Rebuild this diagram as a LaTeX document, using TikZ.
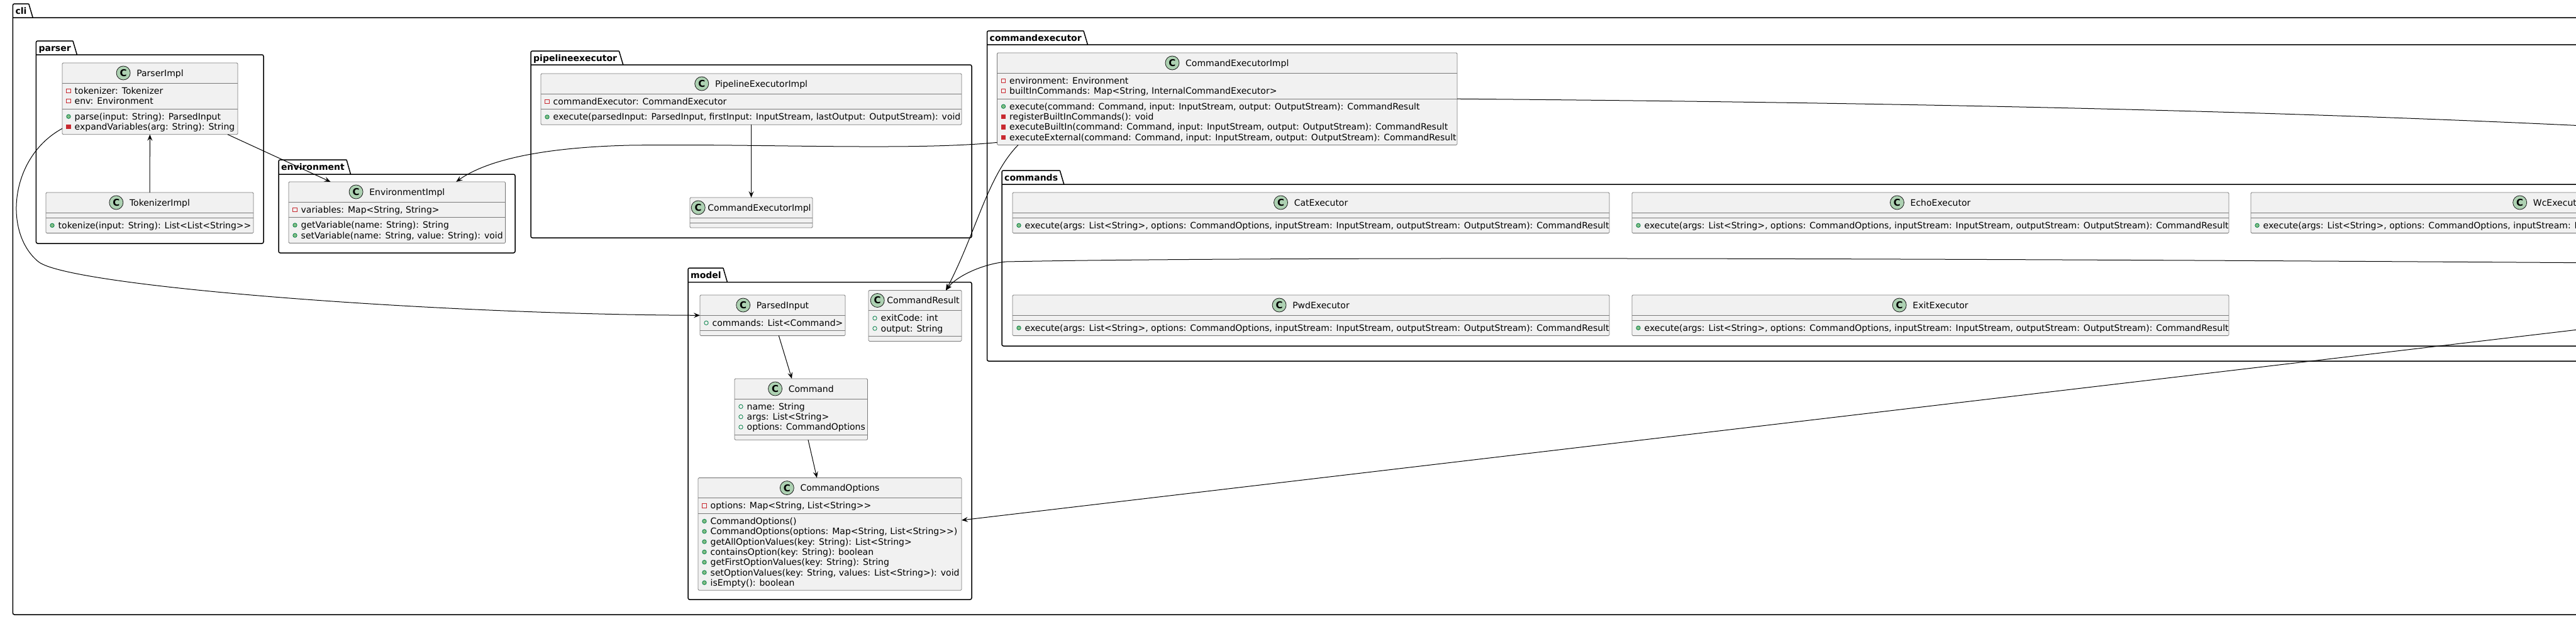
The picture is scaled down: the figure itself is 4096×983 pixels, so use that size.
\documentclass[tikz,border=0pt]{standalone}
\usepackage{fontspec}
\newfontfamily\dv{DejaVu Sans}
\usetikzlibrary{calc,arrows.meta,positioning}
\definecolor{boxfill}{HTML}{F1F1F1}
\definecolor{boxline}{HTML}{7A7A7A}
\definecolor{spotfill}{HTML}{ADD1B2}
\definecolor{privred}{HTML}{C82930}
\definecolor{pubgreen}{HTML}{038048}
\definecolor{pubfill}{HTML}{84BE84}
\tikzset{
 clsbox/.style={draw=boxline, fill=boxfill, line width=0.8pt, rounded corners=1.5pt, inner sep=0pt, outer sep=0pt},
 sepl/.style={draw=boxline, line width=0.8pt},
 clstitle/.style={inner sep=0pt, font=\dv\fontsize{14}{16}\selectfont, anchor=base},
 spot/.style={circle, draw=black!90, fill=spotfill, line width=0.8pt, minimum size=22pt, inner sep=0pt, font=\dv\fontsize{15}{16}\selectfont\bfseries},
 rowtxt/.style={inner sep=0pt, font=\dv\fontsize{14}{16}\selectfont, anchor=base west},
 pkglabel/.style={inner sep=0pt, font=\dv\fontsize{14}{16}\selectfont\bfseries, anchor=base west},
 pkgline/.style={draw=black, line width=1.5pt},
 conn/.style={draw=black, line width=1pt},
 arr/.style={conn, -{Stealth[length=10pt,width=8pt,inset=4pt]}},
}
% class box: [gap] id, left, top, width, height, title
\newcommand{\cls}[7][10]{%
  \node[clsbox, minimum width=#5pt, minimum height=#6pt, anchor=north west] (#2) at (#3,#4) {};
  \draw[sepl] ([yshift=-32pt]#2.north west) -- ([yshift=-32pt]#2.north east);
  \pgfmathsetmacro\tshift{(22+#1)/2}%
  \pgfmathsetmacro\sshift{11+#1}%
  \node[clstitle] (#2-t) at ([xshift=\tshift pt, yshift=-21pt]#2.north) {#7};
  \node[spot] (#2-c) at ($(#2-t.base west)+(-\sshift pt,5pt)$) {C};
}
\newcommand{\sepat}[2]{\draw[sepl] (#1.west |- 0,#2) -- (#1.east |- 0,#2);}
\newcommand{\privf}[2]{\draw[privred, line width=0.8pt] ({#1-3.2},{#2-3.2}) rectangle ({#1+3.2},{#2+3.2});}
\newcommand{\privm}[2]{\draw[privred, fill=privred, line width=0.8pt] ({#1-3.2},{#2-3.2}) rectangle ({#1+3.2},{#2+3.2});}
\newcommand{\pubf}[2]{\draw[pubgreen, line width=0.8pt] (#1,#2) circle[radius=3.2pt];}
\newcommand{\pubm}[2]{\draw[pubgreen, fill=pubfill, line width=0.8pt] (#1,#2) circle[radius=3.2pt];}
\newcommand{\mrow}[4]{#1{#2+10}{#3}\node[rowtxt] at ({#2+19.5},{#3+5}) {#4};}
% package: id, label, L, tabTop, frameTop, R, B
\newcommand{\pkg}[7]{%
  \node[pkglabel] (#1) at ({#3+4},{(#4+#5)/2+5}) {#2};
  \coordinate (#1-tr) at ($(#1.base east)+(3pt,0)$);
  \draw[pkgline, rounded corners=2.5pt] (#1-tr |- 0,#4) -- (#3,#4) -- (#3,#7) -- (#6,#7) -- (#6,#5) -- (#3,#5);
  \draw[pkgline] (#1-tr |- 0,#4) -- ($(#1-tr |- 0,#5)+(6.5pt,0)$);
}
\newcommand{\execsig}{execute(args: List<String>, options: CommandOptions, inputStream: InputStream, outputStream: OutputStream): CommandResult}
\begin{document}
\begin{tikzpicture}[x=1pt,y=-1pt]
\useasboundingbox (0,0) rectangle (4096,983);
\clip (0,0) rectangle (4096,983);
\fill[white] (0,0) rectangle (4096,983);

% packages
\pkg{pcli}{cli}{20.4}{6}{28}{4300}{977}
\pkg{pparser}{parser}{57.4}{65}{87}{419}{387}
\pkg{penv}{environment}{443}{254}{277}{819}{402}
\pkg{ppipe}{pipelineexecutor}{844}{81}{103}{1545}{378}
\pkg{pcexec}{commandexecutor}{1569.5}{49}{71}{4300}{574}
\pkg{pcmds}{commands}{1593}{271}{293}{4250}{550}
\pkg{pmodel}{model}{1094}{426}{448.5}{1545}{953}

% parser
\cls{ParserImpl}{99}{100}{279}{113.8}{ParserImpl}
\mrow\privf{99}{144.3}{tokenizer: Tokenizer}
\mrow\privf{99}{160.6}{env: Environment}
\sepat{ParserImpl}{172.9}
\mrow\pubm{99}{185.2}{parse(input: String): ParsedInput}
\mrow\privm{99}{201.5}{expandVariables(arg: String): String}

\cls{TokenizerImpl}{73}{306}{330}{64.6}{TokenizerImpl}
\sepat{TokenizerImpl}{346}
\mrow\pubm{73}{358.3}{tokenize(input: String): List<List<String>>}

% environment
\cls{EnvironmentImpl}{459}{289}{344.6}{97.5}{EnvironmentImpl}
\mrow\privf{459}{333.3}{variables: Map<String, String>}
\sepat{EnvironmentImpl}{345.6}
\mrow\pubm{459}{357.9}{getVariable(name: String): String}
\mrow\pubm{459}{374.2}{setVariable(name: String, value: String): void}

% pipelineexecutor
\cls{PipelineExecutorImpl}{860}{117}{669}{81.2}{PipelineExecutorImpl}
\mrow\privf{860}{161.3}{commandExecutor: CommandExecutor}
\sepat{PipelineExecutorImpl}{173.6}
\mrow\pubm{860}{185.9}{execute(parsedInput: ParsedInput, firstInput: InputStream, lastOutput: OutputStream): void}

\cls[4]{CEIref}{1097}{314}{195}{48}{CommandExecutorImpl}
\sepat{CEIref}{354}

% commandexecutor
\cls{CEI}{1585.5}{84}{731.5}{146.4}{CommandExecutorImpl}
\mrow\privf{1585.5}{128.3}{environment: Environment}
\mrow\privf{1585.5}{144.6}{builtInCommands: Map<String, InternalCommandExecutor>}
\sepat{CEI}{156.9}
\mrow\pubm{1585.5}{169.2}{execute(command: Command, input: InputStream, output: OutputStream): CommandResult}
\mrow\privm{1585.5}{185.5}{registerBuiltInCommands(): void}
\mrow\privm{1585.5}{201.8}{executeBuiltIn(command: Command, input: InputStream, output: OutputStream): CommandResult}
\mrow\privm{1585.5}{218.1}{executeExternal(command: Command, input: InputStream, output: OutputStream): CommandResult}

% commands
\cls{CatExecutor}{1610}{306}{949}{64.6}{CatExecutor}
\sepat{CatExecutor}{346}
\mrow\pubm{1610}{358.3}{\execsig}
\cls{EchoExecutor}{2595}{306}{949}{64.6}{EchoExecutor}
\sepat{EchoExecutor}{346}
\mrow\pubm{2595}{358.3}{\execsig}
\cls{WcExecutor}{3579}{306}{949}{64.6}{WcExecutor}
\sepat{WcExecutor}{346}
\mrow\pubm{3579}{358.3}{\execsig}
\cls{PwdExecutor}{1610}{469}{949}{64.6}{PwdExecutor}
\sepat{PwdExecutor}{509}
\mrow\pubm{1610}{521.3}{\execsig}
\cls{ExitExecutor}{2595}{469}{949}{64.6}{ExitExecutor}
\sepat{ExitExecutor}{509}
\mrow\pubm{2595}{521.3}{\execsig}

% model
\cls{ParsedInput}{1113}{469}{231}{64.6}{ParsedInput}
\mrow\pubf{1113}{513.3}{commands: List<Command>}
\sepat{ParsedInput}{525.6}

\cls[4]{CommandResult}{1381}{461.5}{148}{80.9}{CommandResult}
\mrow\pubf{1381}{505.8}{exitCode: int}
\mrow\pubf{1381}{522.1}{output: String}
\sepat{CommandResult}{534.4}

\cls{Command}{1168}{602}{211.5}{97.2}{Command}
\mrow\pubf{1168}{646.3}{name: String}
\mrow\pubf{1168}{662.6}{args: List<String>}
\mrow\pubf{1168}{678.9}{options: CommandOptions}
\sepat{Command}{691.2}

\cls{CommandOptions}{1110}{759.6}{419}{178.7}{CommandOptions}
\mrow\privf{1110}{803.9}{options: Map<String, List<String>>}
\sepat{CommandOptions}{816.2}
\mrow\pubm{1110}{828.5}{CommandOptions()}
\mrow\pubm{1110}{844.8}{CommandOptions(options: Map<String, List<String>>)}
\mrow\pubm{1110}{861.1}{getAllOptionValues(key: String): List<String>}
\mrow\pubm{1110}{877.4}{containsOption(key: String): boolean}
\mrow\pubm{1110}{893.7}{getFirstOptionValues(key: String): String}
\mrow\pubm{1110}{910}{setOptionValues(key: String, values: List<String>): void}
\mrow\pubm{1110}{926.3}{isEmpty(): boolean}

% off-picture ends
\coordinate (offA) at (4150,202);
\coordinate (offB) at (4150,418);
\coordinate (offC) at (4150,518);

% connectors
\draw[arr] (TokenizerImpl) -- (ParserImpl);
\draw[arr] (ParserImpl) -- (EnvironmentImpl);
\draw[arr] ($(ParserImpl.south west)+(0,9.5pt)$) .. controls (15,250) and (5,370) .. (61,416) .. controls (110,456) and (700,500) .. (ParsedInput.west);
\draw[arr] (PipelineExecutorImpl) -- (CEIref);
\draw[arr] (ParsedInput) -- (Command);
\draw[arr] (Command) -- (CommandOptions);
\draw[arr] ($(CEI.south west)+(0,4pt)$) .. controls (1450,240) and (1200,228) .. (1000,231) .. controls (880,234) and (780,250) .. ($(EnvironmentImpl.north)+(94pt,0)$);
\draw[arr] ($(CEI.south west)+(33.5pt,0)$) .. controls (1570,280) and (1552,370) .. ($(CommandResult.north)+(49pt,0)$);
\draw[arr] (offB) .. controls (3000,410) and (2000,408) .. (1600,416) .. controls (1560,420) and (1520,440) .. ($(CommandResult.north)+(49pt,0)$);
\draw[arr] (CEI.east) .. controls (3000,163) and (3600,175) .. (offA);
\draw[arr] (offC) -- ($(CommandOptions.east)+(0,22pt)$);
\end{tikzpicture}
\end{document}
